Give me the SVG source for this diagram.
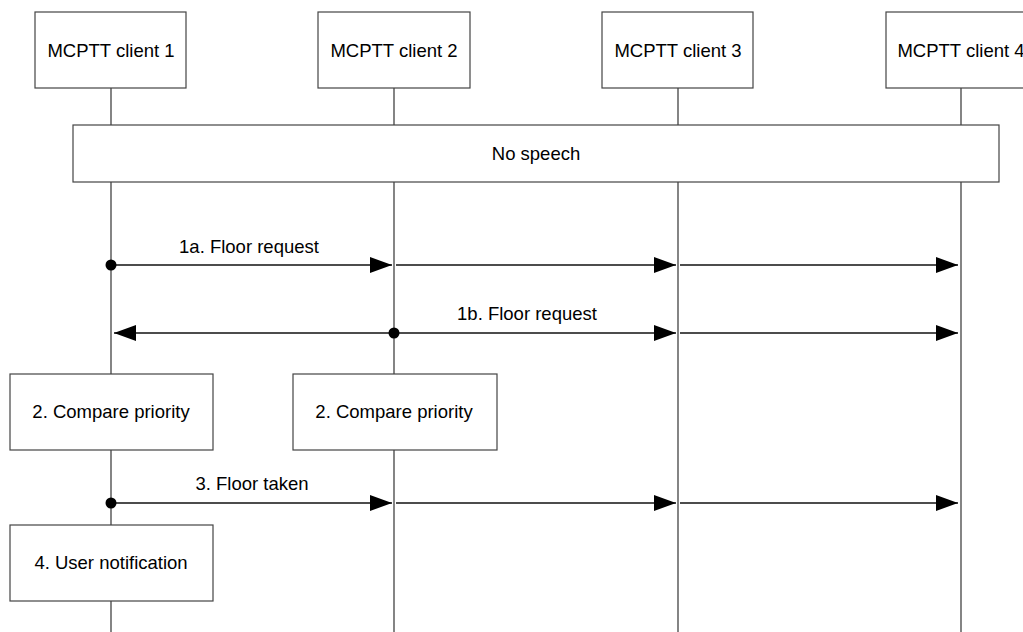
<svg xmlns="http://www.w3.org/2000/svg" width="1023" height="632" viewBox="0 0 1023 632">
<style>
.box{fill:#fff;stroke:#444;stroke-width:1.2}
.life{stroke:#333;stroke-width:1.2;fill:none}
.msg{stroke:#111;stroke-width:1.3;fill:none}
text{font-family:"Liberation Sans",Arial,sans-serif;font-size:18.5px;fill:#000;text-anchor:middle}
</style>
<defs>
<marker id="ah" markerUnits="userSpaceOnUse" markerWidth="22" markerHeight="16" refX="22" refY="8" orient="auto" viewBox="0 0 22 16">
<path d="M0,0 L22,8 L0,16 Z" fill="#000"/>
</marker>
</defs>
<g id="lifelines">
<line class="life" x1="111" y1="88" x2="111" y2="632"/>
<line class="life" x1="394" y1="88" x2="394" y2="632"/>
<line class="life" x1="678" y1="88" x2="678" y2="632"/>
<line class="life" x1="961" y1="88" x2="961" y2="632"/>
</g>
<g id="client1"><rect class="box" x="35" y="12" width="151" height="76"/><text x="111" y="57">MCPTT client 1</text></g>
<g id="client2"><rect class="box" x="318" y="12" width="152" height="76"/><text x="394" y="57">MCPTT client 2</text></g>
<g id="client3"><rect class="box" x="602" y="12" width="151" height="76"/><text x="678" y="57">MCPTT client 3</text></g>
<g id="client4"><rect class="box" x="886" y="12" width="151" height="76"/><text x="961" y="57">MCPTT client 4</text></g>
<g id="nospeech"><rect class="box" x="73" y="125" width="926" height="57"/><text x="536" y="160">No speech</text></g>
<g id="compare1"><rect class="box" x="10" y="374" width="203" height="76"/><text x="111" y="418">2. Compare priority</text></g>
<g id="compare2"><rect class="box" x="293" y="374" width="204" height="76"/><text x="394" y="418">2. Compare priority</text></g>
<g id="notify"><rect class="box" x="10" y="525" width="203" height="76"/><text x="111" y="569">4. User notification</text></g>
<g id="connectors">
<line class="msg" x1="111" y1="265" x2="392" y2="265" marker-end="url(#ah)"/>
<line class="msg" x1="396" y1="265" x2="676" y2="265" marker-end="url(#ah)"/>
<line class="msg" x1="680" y1="265" x2="958" y2="265" marker-end="url(#ah)"/>
<circle cx="111" cy="265" r="5.5" fill="#000"/>
<line class="msg" x1="394" y1="333" x2="114" y2="333" marker-end="url(#ah)"/>
<line class="msg" x1="394" y1="333" x2="676" y2="333" marker-end="url(#ah)"/>
<line class="msg" x1="680" y1="333" x2="958" y2="333" marker-end="url(#ah)"/>
<circle cx="394" cy="333" r="5.5" fill="#000"/>
<line class="msg" x1="111" y1="503" x2="392" y2="503" marker-end="url(#ah)"/>
<line class="msg" x1="396" y1="503" x2="676" y2="503" marker-end="url(#ah)"/>
<line class="msg" x1="680" y1="503" x2="958" y2="503" marker-end="url(#ah)"/>
<circle cx="111" cy="503" r="5.5" fill="#000"/>
</g>
<g id="labels">
<text x="249" y="253">1a. Floor request</text>
<text x="527" y="320">1b. Floor request</text>
<text x="252" y="490">3. Floor taken</text>
</g>
</svg>
